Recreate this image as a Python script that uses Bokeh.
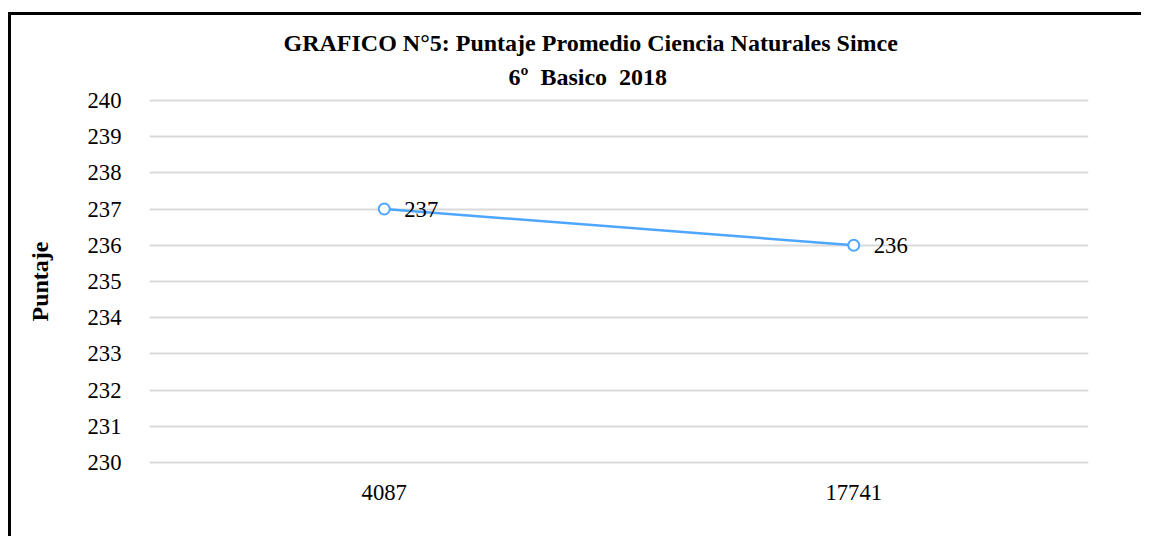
from bokeh.plotting import figure
from bokeh.models import ColumnDataSource, FactorRange, FixedTicker, LabelSet, Title, Range1d
from bokeh.embed import file_html
from bokeh.resources import INLINE

categories = ["4087", "17741"]
values = [237, 236]
labels = ["237", "236"]
y_ticks = [230, 231, 232, 233, 234, 235, 236, 237, 238, 239, 240]
title_line1 = "GRAFICO N°5: Puntaje Promedio Ciencia Naturales Simce"
title_line2 = "6º \u00a0Basico \u00a02018"
y_label = "Puntaje"

FONT = "Liberation Serif"
FS = "17pt"
TFS = "18pt"
BLUE = "#4da6ff"

src = ColumnDataSource(dict(x=categories, y=values, lab=labels))

p = figure(width=1133, height=524, output_backend="svg", toolbar_location=None,
           x_range=FactorRange(*categories, range_padding=0),
           y_range=Range1d(min(y_ticks) - 0.05, max(y_ticks) + 0.05))
p.styles = {"border-left": "3px solid black", "border-top": "3px solid black",
            "margin-top": "12px", "margin-left": "8px"}
p.min_border_left = 138
p.min_border_right = 56
p.min_border_top = 83
p.min_border_bottom = 75
p.outline_line_color = None
p.background_fill_color = "white"
p.border_fill_color = "white"

# titles (second line first: it sits closest to the frame)
t2 = Title(text=title_line2, align="left", text_font=FONT, text_font_size=TFS,
           text_font_style="bold", text_color="black", offset=359, standoff=17)
t1 = Title(text=title_line1, align="left", text_font=FONT, text_font_size=TFS,
           text_font_style="bold", text_color="black", offset=134, standoff=-5)
p.add_layout(t2, "above")
p.add_layout(t1, "above")

p.xgrid.grid_line_color = None
p.ygrid.grid_line_color = "#d9d9d9"
p.ygrid.grid_line_width = 2
p.yaxis.ticker = FixedTicker(ticks=y_ticks)

for ax in (p.xaxis[0], p.yaxis[0]):
    ax.axis_line_color = None
    ax.major_tick_line_color = None
    ax.minor_tick_line_color = None
    ax.major_label_text_font = FONT
    ax.major_label_text_font_size = FS
    ax.major_label_text_color = "black"

p.yaxis.major_label_standoff = 22
p.xaxis.major_label_standoff = 14
p.yaxis.axis_label = y_label
p.yaxis.axis_label_text_font = FONT
p.yaxis.axis_label_text_font_size = TFS
p.yaxis.axis_label_text_font_style = "bold"
p.yaxis.axis_label_text_color = "black"
p.yaxis.axis_label_standoff = 32

p.line("x", "y", source=src, line_color=BLUE, line_width=2.5)
p.scatter("x", "y", source=src, marker="circle", size=11, fill_color="white",
          line_color=BLUE, line_width=2)

ls = LabelSet(x="x", y="y", text="lab", source=src, x_offset=20, y_offset=0,
              text_font=FONT, text_font_size=FS, text_color="black",
              text_baseline="middle", text_align="left")
p.add_layout(ls)

open("out.html", "w").write(file_html(p, INLINE))
